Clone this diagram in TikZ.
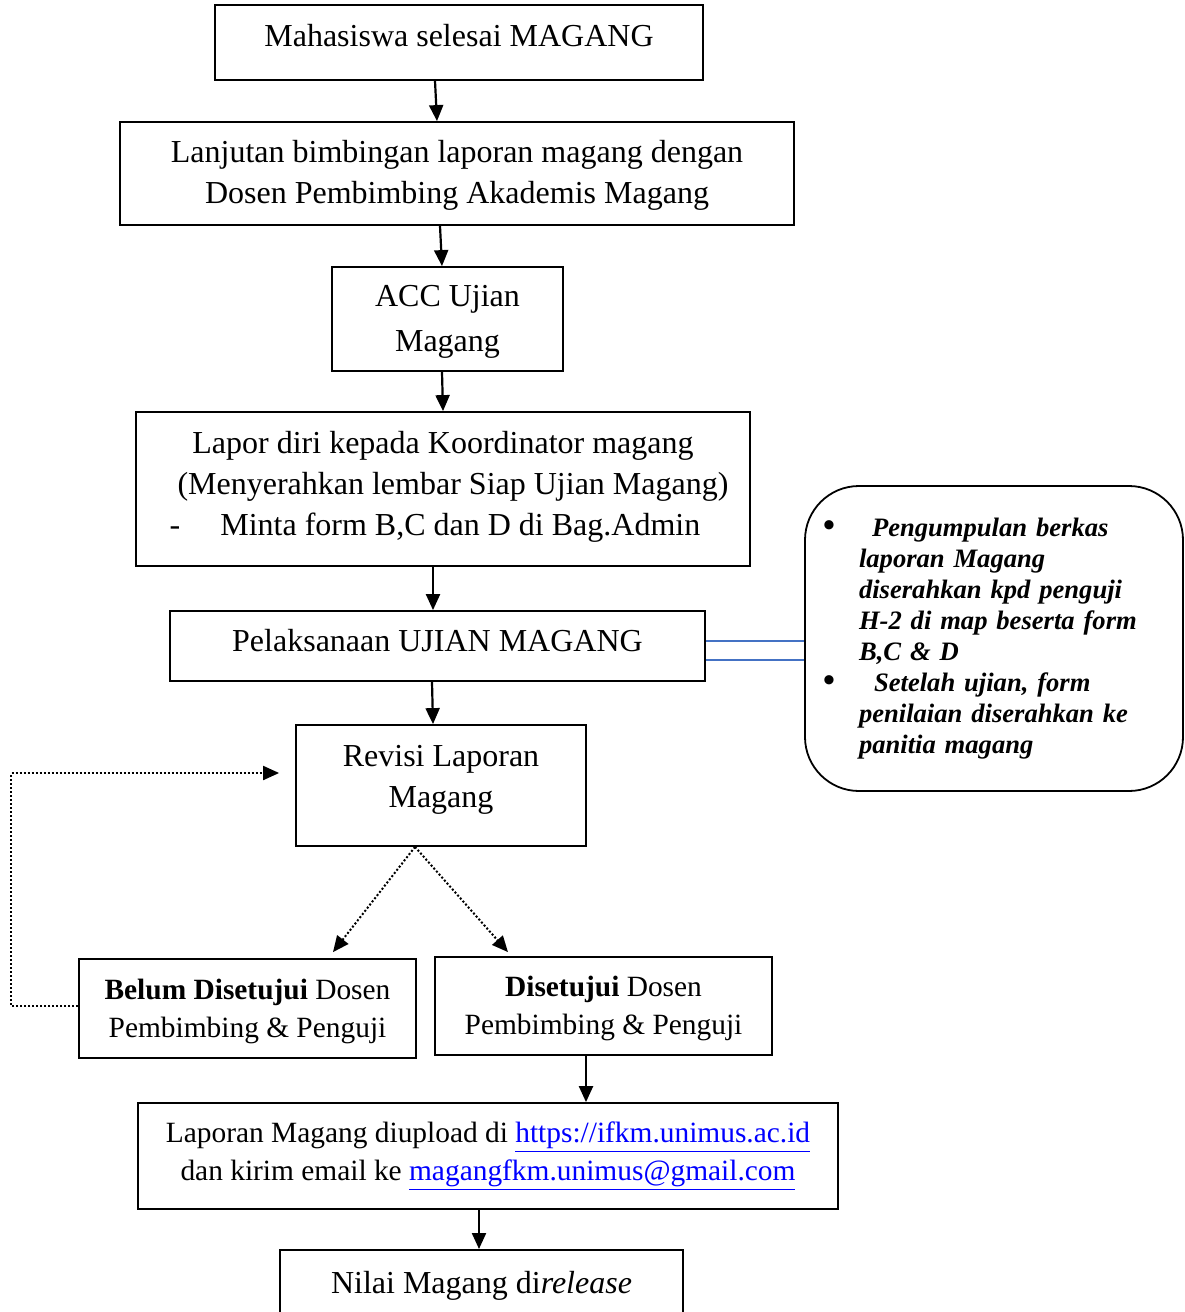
\documentclass[tikz,border=0pt]{standalone}
\usepackage{fontspec}
\setmainfont{Liberation Serif}
\usepackage{xcolor}
\usetikzlibrary{arrows.meta}
\tikzset{>={Triangle[width=7pt,length=8pt]}}
\definecolor{garisbiru}{RGB}{68,114,196}
\newcommand{\butir}{\leavevmode\llap{\textup{\fontsize{17}{0}\selectfont\textbullet}\hspace{12pt}}}
\tikzset{
  kotak/.style={draw=black, line width=0.9pt, align=center, inner sep=0pt,
    font=\fontsize{16}{20.5}\selectfont},
  kecil/.style={font=\fontsize{14.7}{19}\selectfont},
  panah/.style={->, line width=1.1pt},
  titik/.style={->, line width=1pt, dash pattern=on 1pt off 1pt},
  ganda/.style={draw=garisbiru, double=white, double distance=8.9pt, line width=0.6pt},
}

\begin{document}
\begin{tikzpicture}[x=0.5pt, y=-0.5pt]
    \useasboundingbox (0,0) rectangle (1184,1312);
    \clip (0,0) rectangle (1184,1312);

    \node[kotak, minimum width=244pt, minimum height=37.5pt] (Selesai) at (459,42.5) {Mahasiswa selesai MAGANG\rule[-7pt]{0pt}{0pt}};
    \node[kotak, minimum width=337pt, minimum height=51.5pt] (Bimbingan) at (457,173.5) {\rule{0pt}{13pt}Lanjutan bimbingan laporan magang dengan\\Dosen Pembimbing Akademis Magang};
    \node[kotak, minimum width=115.5pt, minimum height=52pt] (ACC) at (447.5,319) {\rule{0pt}{13pt}ACC Ujian\\[2pt]Magang};
    \node[kotak, minimum width=307pt, minimum height=77pt] (Lapor) at (443,489) {Lapor diri kepada Koordinator magang\\\hspace*{10pt}(Menyerahkan lembar Siap Ujian Magang)\\-\hspace{20pt}Minta form B,C dan D di Bag.Admin\hspace{8pt}\rule[-6pt]{0pt}{0pt}};
    \node[kotak, minimum width=267.5pt, minimum height=35pt] (Ujian) at (437.5,646) {Pelaksanaan UJIAN MAGANG\rule[-6pt]{0pt}{0pt}};
    \node[kotak, minimum width=145pt, minimum height=60.5pt] (Revisi) at (441,785.5) {Revisi Laporan\\Magang\rule[-9pt]{0pt}{0pt}};

    \node[kotak, kecil, minimum width=168.5pt, minimum height=49.5pt] (Belum) at (247.5,1008.5) {\rule{0pt}{13pt}\textbf{Belum Disetujui} Dosen\\Pembimbing \& Penguji};
    \node[kotak, kecil, minimum width=168.5pt, minimum height=49pt] (Setuju) at (603.5,1006) {\rule{0pt}{13pt}\textbf{Disetujui} Dosen\\Pembimbing \& Penguji};

    \node[kotak, kecil, minimum width=350pt, minimum height=53pt] (Upload) at (488,1156) {Laporan Magang diupload di \textcolor{blue}{\underline{https://ifkm.unimus.ac.id}}\\dan kirim email ke \textcolor{blue}{\underline{magangfkm.unimus@gmail.com}}\rule[-5pt]{0pt}{0pt}};
    \node[kotak, anchor=north, minimum width=201.5pt, inner ysep=10pt, text height=12pt, text depth=40pt] (Nilai) at (481.5,1249) {Nilai Magang di\textit{release}};

    \node[draw=black, line width=0.9pt, rounded corners=27pt, minimum width=189pt, minimum height=152.5pt,
      text width=150pt, inner xsep=19.5pt, inner ysep=0pt, align=left,
      font=\fontsize{13.3}{15.5}\selectfont\bfseries\itshape] (Berkas) at (994,638.5) {%
      \leftskip=7.5pt
      \butir\hspace*{6.5pt}Pengumpulan berkas\\
      laporan Magang\\
      diserahkan kpd penguji\\
      H-2 di map beserta form\\
      B,C \& D\\
      \butir\hspace*{7.5pt}Setelah ujian, form\\
      penilaian diserahkan ke\\
      panitia magang\par};

    \draw[panah] ([xshift=-12pt]Selesai.south) -- ([xshift=-10pt]Bimbingan.north);
    \draw[panah] ([xshift=-8.5pt]Bimbingan.south) -- ([xshift=-2.75pt]ACC.north);
    \draw[panah] ([xshift=-2.75pt]ACC.south) -- (Lapor.north);
    \draw[panah] ([xshift=-5pt]Lapor.south) -- ([xshift=-2.25pt]Ujian.north);
    \draw[panah] ([xshift=-2.75pt]Ujian.south) -- ([xshift=-4pt]Revisi.north);

    \draw[ganda] ([yshift=-2.25pt]Ujian.east) -- ([yshift=-2.25pt]Ujian.east -| Berkas.west);

    \draw[titik] ([xshift=-13pt]Revisi.south) -- ([xshift=42.75pt, yshift=3pt]Belum.north);
    \draw[titik] ([xshift=-13pt]Revisi.south) -- ([xshift=-47.75pt, yshift=2pt]Setuju.north);
    \draw[titik] ([yshift=1.5pt]Belum.west) -- ++(-67,0) |- ([xshift=-8pt, yshift=6.25pt]Revisi.west);

    \draw[panah] ([xshift=-8.75pt]Setuju.south) -- ([xshift=49pt]Upload.north);
    \draw[panah] ([xshift=-4.5pt]Upload.south) -- ([xshift=-1.25pt]Nilai.north);
\end{tikzpicture}
\end{document}
